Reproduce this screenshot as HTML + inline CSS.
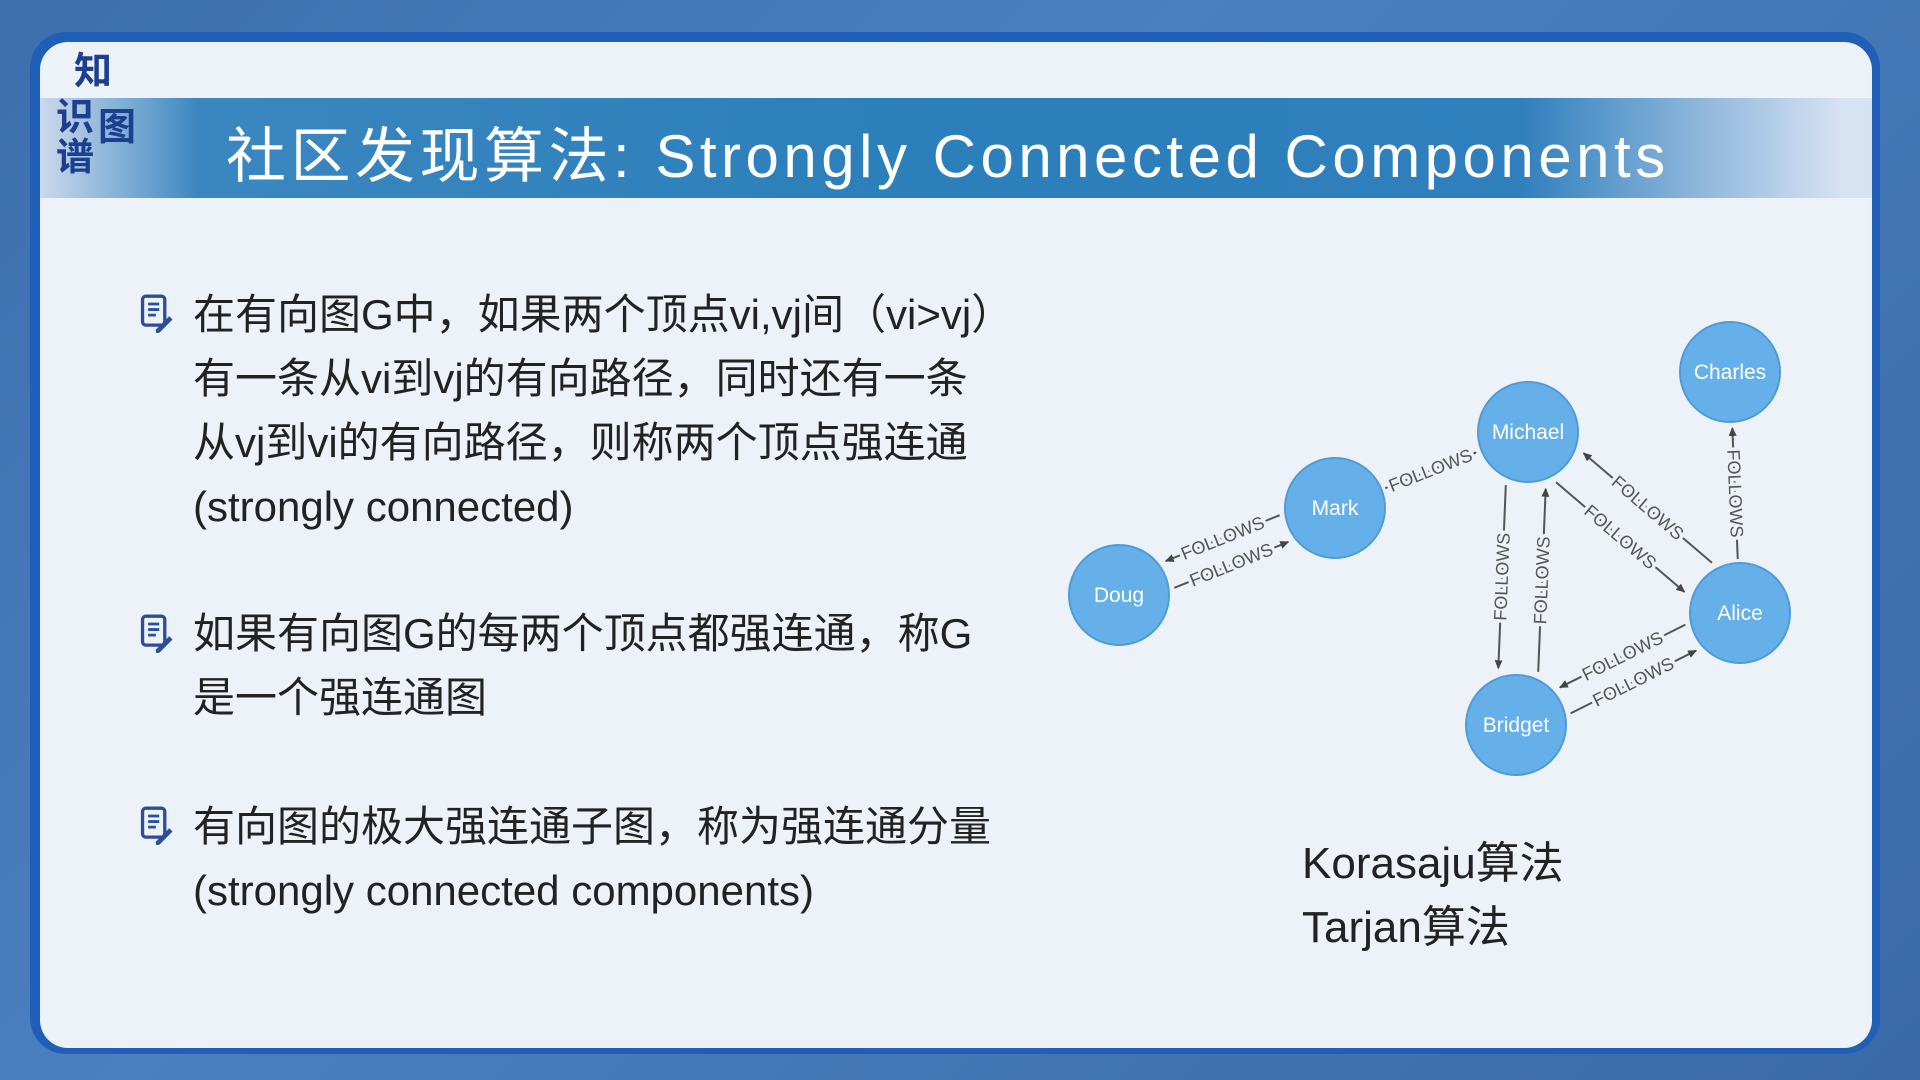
<!DOCTYPE html>
<html><head><meta charset="utf-8">
<style>
html,body{margin:0;padding:0;}
body{width:1920px;height:1080px;overflow:hidden;position:relative;
background:linear-gradient(135deg,#3d6fae 0%,#4a7fc0 40%,#3a6aa8 100%);font-family:"Liberation Sans","Noto Sans CJK SC",sans-serif;}
.card{position:absolute;left:30px;top:32px;width:1850px;height:1022px;border-radius:36px;background:#1f5fb8;}
.inner{position:absolute;left:40px;top:42px;width:1832px;height:1006px;border-radius:28px;background:#edf2f8;overflow:hidden;}
.band{position:absolute;left:0;top:56px;width:1832px;height:100px;
background:linear-gradient(90deg,rgba(200,215,235,0.9) 0px,#3a86c0 160px,#2b7fba 900px,#2f7fbd 1480px,rgba(200,215,240,0.6) 1800px);}
.title{position:absolute;left:226px;top:122px;line-height:70px;color:#fff;font-size:60px;letter-spacing:4.5px;white-space:nowrap;font-family:"Liberation Sans","Noto Sans CJK SC",sans-serif;}
.logo{position:absolute;color:#1c3f8f;font-weight:bold;font-size:38px;font-family:"Noto Sans CJK SC",sans-serif;line-height:40px;}
.txt{position:absolute;left:193px;color:#222;font-size:42px;line-height:64px;white-space:nowrap;font-family:"Liberation Sans","Noto Sans CJK SC",sans-serif;}
.ic{position:absolute;left:140px;width:34px;height:40px;}
.alg{position:absolute;left:1302px;top:832px;color:#222;font-size:44px;line-height:64px;font-family:"Liberation Sans","Noto Sans CJK SC",sans-serif;}
</style></head><body>
<div class="card"></div>
<div class="inner">
  <div class="band"></div>
</div>
<div class="logo" style="left:74px;top:48px;">知</div>
<div class="logo" style="left:56px;top:94px;">识</div>
<div class="logo" style="left:98px;top:104px;">图</div>
<div class="logo" style="left:56px;top:134px;">谱</div>
<div class="title">社区发现算法: Strongly Connected Components</div>

<svg class="ic" style="top:294px" viewBox="0 0 30 36"><rect x="2" y="2" width="20" height="26" rx="3" fill="none" stroke="#2a4e9a" stroke-width="3"/><path d="M7 9h10M7 14h10M7 19h7" stroke="#2a4e9a" stroke-width="2.5"/><path d="M14 32l12-12 3 3-12 12h-3z" fill="#2a4e9a"/></svg>
<svg class="ic" style="top:614px" viewBox="0 0 30 36"><rect x="2" y="2" width="20" height="26" rx="3" fill="none" stroke="#2a4e9a" stroke-width="3"/><path d="M7 9h10M7 14h10M7 19h7" stroke="#2a4e9a" stroke-width="2.5"/><path d="M14 32l12-12 3 3-12 12h-3z" fill="#2a4e9a"/></svg>
<svg class="ic" style="top:806px" viewBox="0 0 30 36"><rect x="2" y="2" width="20" height="26" rx="3" fill="none" stroke="#2a4e9a" stroke-width="3"/><path d="M7 9h10M7 14h10M7 19h7" stroke="#2a4e9a" stroke-width="2.5"/><path d="M14 32l12-12 3 3-12 12h-3z" fill="#2a4e9a"/></svg>

<div class="txt" style="top:283px">在有向图G中，如果两个顶点vi,vj间（vi&gt;vj）<br>有一条从vi到vj的有向路径，同时还有一条<br>从vj到vi的有向路径，则称两个顶点强连通<br>(strongly connected)</div>
<div class="txt" style="top:602px">如果有向图G的每两个顶点都强连通，称G<br>是一个强连通图</div>
<div class="txt" style="top:795px">有向图的极大强连通子图，称为强连通分量<br>(strongly connected components)</div>
<div class="alg">Korasaju算法<br>Tarjan算法</div>

<svg id="g" style="position:absolute;left:0;top:0" width="1920" height="1080">
<defs><marker id="ar" markerWidth="10" markerHeight="10" refX="8" refY="5" orient="auto" markerUnits="userSpaceOnUse"><path d="M0,1 L9,5 L0,9 z" fill="#444"/></marker></defs>
</svg>
<script>
var N={D:[1119,595],M:[1335,508],Mi:[1528,432],C:[1730,372],A:[1740,613],B:[1516,725]};
var R=50,svg=document.getElementById('g'),ns='http://www.w3.org/2000/svg';
function edge(a,b,off){
  var P=N[a],Q=N[b];
  var c1=P,c2=Q; if(c1[0]>c2[0]){c1=Q;c2=P;}
  var dx=c2[0]-c1[0],dy=c2[1]-c1[1],L=Math.hypot(dx,dy);var nx=-dy/L,ny=dx/L;
  var ux=(Q[0]-P[0])/L,uy=(Q[1]-P[1])/L;
  var ex=nx*off,ey=ny*off;
  var x1=P[0]+ux*(R+4)+ex,y1=P[1]+uy*(R+4)+ey,x2=Q[0]-ux*(R+6)+ex,y2=Q[1]-uy*(R+6)+ey;
  var l=document.createElementNS(ns,'line');
  l.setAttribute('x1',x1);l.setAttribute('y1',y1);l.setAttribute('x2',x2);l.setAttribute('y2',y2);
  l.setAttribute('stroke','#555');l.setAttribute('stroke-width','2');l.setAttribute('marker-end','url(#ar)');
  svg.appendChild(l);
  var mx=(x1+x2)/2,my=(y1+y2)/2,ang=Math.atan2(y2-y1,x2-x1)*180/Math.PI;
  if(ang>90)ang-=180; if(ang<-90)ang+=180;
  var t=document.createElementNS(ns,'text');
  t.setAttribute('x',mx);t.setAttribute('y',my+6);t.setAttribute('text-anchor','middle');
  t.setAttribute('transform','rotate('+ang+' '+mx+' '+my+')');
  t.setAttribute('font-size','18');t.setAttribute('fill','#555');
  t.setAttribute('stroke','#edf2f8');t.setAttribute('stroke-width','7');t.setAttribute('paint-order','stroke');
  t.setAttribute('font-family','Liberation Sans, sans-serif');
  t.textContent='FOLLOWS';svg.appendChild(t);
}
edge('M','D',-14);edge('D','M',14);edge('M','Mi',0);
edge('Mi','B',-20);edge('B','Mi',20);
edge('A','Mi',-20);edge('Mi','A',20);
edge('A','C',0);edge('A','B',-14);edge('B','A',14);
for(var k in N){
  var c=document.createElementNS(ns,'circle');c.setAttribute('cx',N[k][0]);c.setAttribute('cy',N[k][1]);c.setAttribute('r',R);
  c.setAttribute('fill','#66b0ea');c.setAttribute('stroke','#4f9bd8');c.setAttribute('stroke-width','2');svg.appendChild(c);
  var t=document.createElementNS(ns,'text');t.setAttribute('x',N[k][0]);t.setAttribute('y',N[k][1]+7);
  t.setAttribute('text-anchor','middle');t.setAttribute('fill','#fff');t.setAttribute('font-size','21');
  t.setAttribute('font-family','Liberation Sans, sans-serif');
  t.textContent={D:'Doug',M:'Mark',Mi:'Michael',C:'Charles',A:'Alice',B:'Bridget'}[k];svg.appendChild(t);
}
</script>
</body></html>
